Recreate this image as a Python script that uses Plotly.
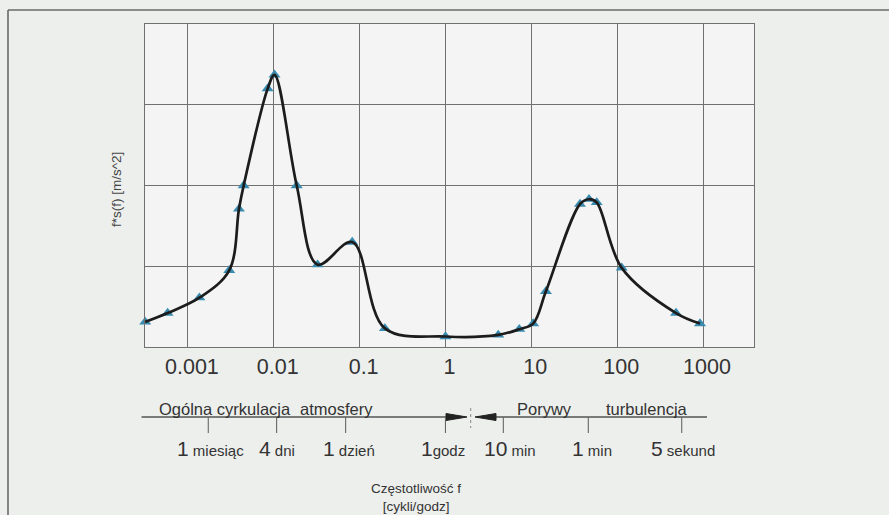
import plotly.graph_objects as go

# ---------------- data ----------------
freq = [0.000318, 0.00058, 0.00136, 0.00303, 0.00393, 0.00446, 0.00849, 0.0102,
        0.0185, 0.0324, 0.082, 0.197, 1.0, 4.12, 7.24, 10.5, 14.8, 36.9, 47.0,
        57.8, 113, 485, 923]
power = [0.31, 0.42, 0.61, 0.95, 1.71, 2.0, 3.2, 3.37,
         2.0, 1.02, 1.3, 0.23, 0.13, 0.15, 0.22, 0.29, 0.69, 1.77, 1.83,
         1.79, 0.98, 0.42, 0.29]

tick_vals = [0.001, 0.01, 0.1, 1, 10, 100, 1000]
tick_text = ["0.001", "0.01", "0.1", "1", "10", "100", "1000"]

band_labels = ["Ogólna cyrkulacja", "atmosfery", "Porywy", "turbulencja"]
band_pos = [-2.569, -1.270, 1.159, 2.342]          # log10 f of label centres

period_numbers = ["1", "4", "1", "1", "10", "1", "5"]
period_units = ["miesiąc", "dni", "dzień", "godz", "min", "min", "sekund"]
period_ticks = [-2.763, -1.967, -1.163, 0.0, 0.674, 1.664, 2.752]   # log10 f
period_label_pos = [-2.738, -1.957, -1.118, -0.029, 0.752, 1.707, 2.767]

y_title = "f*s(f) [m/s^2]"
x_title = "Częstotliwość f<br>[cykli/godz]"

# ---------------- geometry ----------------
W, H = 889, 515
L, R, T, B = 145, 754, 24, 347
XMIN, XMAX = -3.5, 3.594


def lx(logf):      # log10 frequency -> paper x
    return (logf - XMIN) / (XMAX - XMIN)


def pxx(px):       # pixel x -> paper x
    return (px - L) / (R - L)


def pxy(py):       # pixel y -> paper y
    return (B - py) / (B - T)


TXT = "#333333"
GRID = "#707070"
FONT = "Liberation Sans, Arial, sans-serif"

fig = go.Figure()

fig.add_trace(go.Scatter(
    x=freq, y=power, mode="markers",
    marker=dict(symbol="triangle-up", size=10.5, color="#3a8bb0"),
    cliponaxis=False, showlegend=False, hoverinfo="skip"))
fig.add_trace(go.Scatter(
    x=freq, y=power, mode="lines",
    line=dict(color="#1c1c1c", width=2.7, shape="spline", smoothing=1.0),
    cliponaxis=False, showlegend=False))

shapes = []
# outer frame (left + top edges)
shapes.append(dict(type="line", xref="paper", yref="paper",
                   x0=pxx(8), x1=pxx(8), y0=pxy(10), y1=pxy(H + 5),
                   line=dict(color="#6a6a6a", width=1.6)))
shapes.append(dict(type="line", xref="paper", yref="paper",
                   x0=pxx(8), x1=pxx(W + 5), y0=pxy(10), y1=pxy(10),
                   line=dict(color="#6a6a6a", width=1.6)))

# scale line below the chart
yl = 417
shapes.append(dict(type="line", xref="paper", yref="paper",
                   x0=pxx(141.5), x1=pxx(446), y0=pxy(yl), y1=pxy(yl),
                   line=dict(color="#555555", width=1.3)))
shapes.append(dict(type="line", xref="paper", yref="paper",
                   x0=pxx(494), x1=pxx(707), y0=pxy(yl), y1=pxy(yl),
                   line=dict(color="#555555", width=1.3)))
# arrow heads
shapes.append(dict(type="path", xref="paper", yref="paper",
                   path=f"M {pxx(446)},{pxy(yl-3.5)} L {pxx(467)},{pxy(yl)} L {pxx(446)},{pxy(yl+3.5)} Z",
                   fillcolor="#222222", line=dict(color="#222222", width=1)))
shapes.append(dict(type="path", xref="paper", yref="paper",
                   path=f"M {pxx(496)},{pxy(yl-3.5)} L {pxx(475)},{pxy(yl)} L {pxx(496)},{pxy(yl+3.5)} Z",
                   fillcolor="#222222", line=dict(color="#222222", width=1)))
# separator mark
shapes.append(dict(type="line", xref="paper", yref="paper",
                   x0=pxx(470.7), x1=pxx(470.7), y0=pxy(408), y1=pxy(428),
                   line=dict(color="#888888", width=1, dash="dot")))
# period ticks
for t in period_ticks:
    shapes.append(dict(type="line", xref="paper", yref="paper",
                       x0=lx(t), x1=lx(t), y0=pxy(yl), y1=pxy(433),
                       line=dict(color="#666666", width=1.1)))

annotations = []
for txt, p in zip(band_labels, band_pos):
    annotations.append(dict(text=txt, x=lx(p), y=pxy(409), xref="paper", yref="paper",
                            xanchor="center", yanchor="middle", showarrow=False,
                            font=dict(size=16.5, color=TXT, family=FONT)))
for n, u, p in zip(period_numbers, period_units, period_label_pos):
    sep = "" if u == "godz" else " "
    annotations.append(dict(
        text=f"<span style='font-size:21px'>{n}</span>{sep}<span style='font-size:15px'>{u}</span>",
        x=lx(p), y=pxy(448), xref="paper", yref="paper",
        xanchor="center", yanchor="middle", showarrow=False,
        font=dict(size=15, color=TXT, family=FONT)))
annotations.append(dict(text=x_title, x=pxx(416), y=pxy(497), xref="paper", yref="paper",
                        xanchor="center", yanchor="middle", showarrow=False,
                        font=dict(size=13.5, color=TXT, family=FONT)))
annotations.append(dict(text=y_title, x=pxx(117), y=pxy(190), xref="paper", yref="paper",
                        xanchor="center", yanchor="middle", showarrow=False, textangle=-90,
                        font=dict(size=13.5, color="#444444", family=FONT)))

fig.update_layout(
    width=W, height=H,
    margin=dict(l=L, r=W - R, t=T, b=H - B, pad=0),
    paper_bgcolor="#edefed", plot_bgcolor="#f3f4f3",
    font=dict(family=FONT, color=TXT),
    showlegend=False,
    shapes=shapes, annotations=annotations,
    xaxis=dict(type="log", range=[XMIN, XMAX], tickvals=tick_vals, ticktext=tick_text,
               showgrid=True, gridcolor=GRID, gridwidth=1.3, ticks="",
               showline=True, mirror=True, linecolor=GRID, linewidth=1.3,
               zeroline=False, tickfont=dict(size=21.5, color=TXT, family=FONT),
               ticklabelshift=4),
    yaxis=dict(range=[0, 4], dtick=1, showticklabels=False, showgrid=True,
               gridcolor=GRID, gridwidth=1.3, ticks="", zeroline=False,
               showline=True, mirror=True, linecolor=GRID, linewidth=1.3),
)

fig.write_html("out.html")
